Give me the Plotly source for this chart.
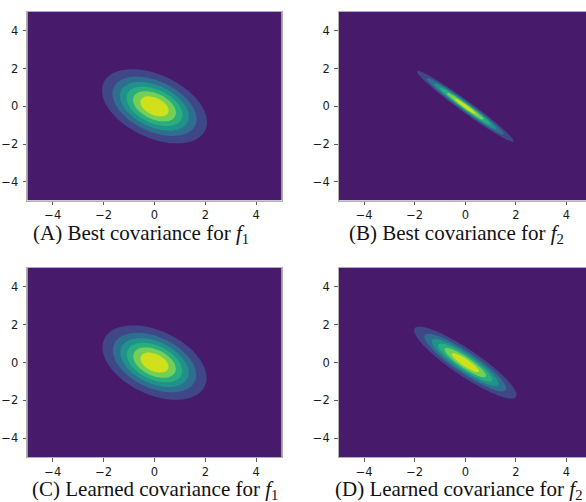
import numpy as np
import plotly.graph_objects as go

# ---- data: covariance matrices of the 2-D Gaussians (mean at origin) ----
cov_best_f1 = [[1.10, -0.45], [-0.45, 1.00]]
cov_best_f2 = [[0.9550, -0.9210], [-0.9210, 0.9230]]
cov_learned_f1 = [[1.08, -0.43], [-0.43, 1.00]]
cov_learned_f2 = [[1.0628, -0.8978], [-0.8978, 0.9372]]

captions = [
    "(A) Best covariance for <i>f</i><sub>1</sub>",
    "(B) Best covariance for <i>f</i><sub>2</sub>",
    "(C) Learned covariance for <i>f</i><sub>1</sub>",
    "(D) Learned covariance for <i>f</i><sub>2</sub>",
]
tick_vals = [-4, -2, 0, 2, 4]
tick_text = ["\u22124", "\u22122", "0", "2", "4"]
grid_n = 100
peak_over_step = 6.9   # max density / contour step (matplotlib-like 7 bands)

band_colors = ["#481a6c", "#3f4788", "#2e6e8e", "#21918c",
               "#29af7f", "#73d056", "#d0e11c"]

W, H = 586, 502
panels = [
    (cov_best_f1, (27.3, 281.7, 12.0, 200.6), (-5, 5)),
    (cov_best_f2, (338.8, 586.0, 12.0, 200.6), (-5, (586.0 - 465.3) / 25.3)),
    (cov_learned_f1, (27.3, 281.7, 268.0, 457.2), (-5, 5)),
    (cov_learned_f2, (338.8, 586.0, 268.0, 457.2), (-5, (586.0 - 465.3) / 25.3)),
]
cap_pos = [(141, 234), (456, 234), (155, 490), (459, 490)]

xs = np.linspace(-5, 5, grid_n)
ys = np.linspace(-5, 5, grid_n)
X, Y = np.meshgrid(xs, ys)

colorscale = [[i / (len(band_colors) - 1), c] for i, c in enumerate(band_colors)]

fig = go.Figure()
for k, (cov, box, xr) in enumerate(panels):
    S = np.array(cov, dtype=float)
    Si = np.linalg.inv(S)
    q = Si[0, 0] * X * X + 2 * Si[0, 1] * X * Y + Si[1, 1] * Y * Y
    Z = np.exp(-0.5 * q) / (2 * np.pi * np.sqrt(np.linalg.det(S)))
    step = Z.max() / peak_over_step
    xa = "x" if k == 0 else f"x{k+1}"
    ya = "y" if k == 0 else f"y{k+1}"
    fig.add_trace(go.Contour(
        x=xs, y=ys, z=Z, xaxis=xa, yaxis=ya,
        autocontour=False,
        contours=dict(start=step, end=6 * step, size=step,
                      coloring="fill", showlines=False),
        line=dict(width=0),
        colorscale=colorscale, showscale=False, hoverinfo="skip",
    ))
    x0, x1, yt, yb = box
    axcommon = dict(
        showgrid=False, zeroline=False, showline=True, mirror=True,
        linecolor="#b0b0b0", linewidth=1, automargin=False,
        ticks="outside", ticklen=3.7, tickwidth=0.8, tickcolor="#333333",
        tickvals=tick_vals, ticktext=tick_text,
        tickfont=dict(family="DejaVu Sans", size=11.5, color="#1a1a1a"),
    )
    sfx = "" if k == 0 else str(k + 1)
    fig.layout["xaxis" + sfx] = dict(
        axcommon, domain=[x0 / W, x1 / W], range=list(xr),
        anchor=ya, ticklabelstandoff=0)
    fig.layout["yaxis" + sfx] = dict(
        axcommon, domain=[1 - yb / H, 1 - yt / H], range=[-5, 5],
        anchor=xa, ticklabelstandoff=2)
    cx, cy = cap_pos[k]
    fig.add_annotation(
        text=captions[k], x=cx / W, y=1 - cy / H, xref="paper", yref="paper",
        showarrow=False, xanchor="center", yanchor="middle",
        font=dict(family="Liberation Serif", size=21, color="#111111"))

fig.update_layout(
    width=W, height=H, margin=dict(l=0, r=0, t=0, b=0, autoexpand=False),
    paper_bgcolor="white", plot_bgcolor="white", showlegend=False,
)
fig.write_html(
    "out.html",
    config={"displayModeBar": False, "staticPlot": True},
    post_script="document.body.style.margin='0';document.body.style.padding='0';"
                "document.body.style.overflow='hidden';",
)
